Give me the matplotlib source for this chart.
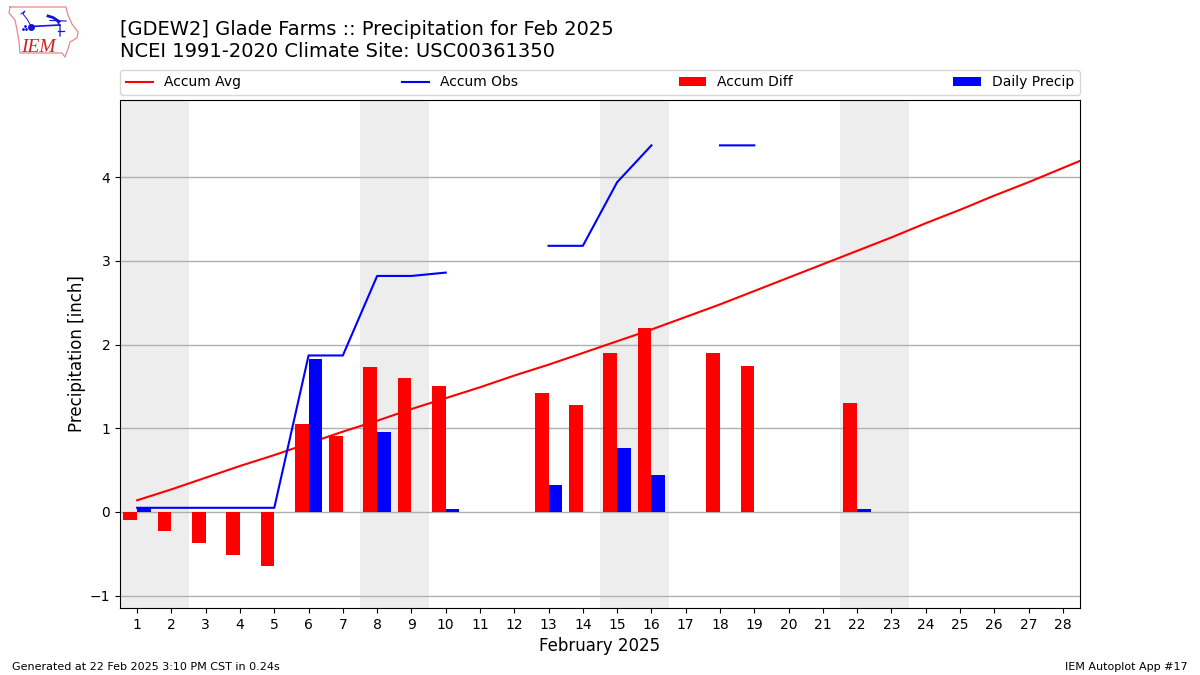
#!/usr/bin/env python3
## Monthly precipitation chart: accumulated obs against climatology

import numpy as np
import matplotlib
matplotlib.use("Agg")
import matplotlib.pyplot as plt

nan = np.nan

## Days of the month, the climatology line runs one day past the axis
days = list(range(1, 29))
avg_days = list(range(1, 30))
weekend_starts = [1, 8, 15, 22]

accum_avg = [0.14, 0.27, 0.41, 0.55, 0.68, 0.82, 0.96, 1.09, 1.23, 1.36,
             1.49, 1.63, 1.76, 1.90, 2.04, 2.18, 2.33, 2.48, 2.64, 2.80,
             2.96, 3.12, 3.28, 3.45, 3.61, 3.78, 3.94, 4.11, 4.28]
accum_obs = [0.05, 0.05, 0.05, 0.05, 0.05, 1.87, 1.87, 2.82, 2.82, 2.86,
             nan, nan, 3.18, 3.18, 3.94, 4.38, nan, 4.38, 4.38, nan,
             nan, nan, nan, nan, nan, nan, nan, nan]
accum_diff = [-0.09, -0.23, -0.37, -0.51, -0.64, 1.05, 0.91, 1.73, 1.60, 1.50,
              nan, nan, 1.42, 1.28, 1.90, 2.20, nan, 1.90, 1.74, nan,
              nan, 1.30, nan, nan, nan, nan, nan, nan]
daily_precip = [0.05, nan, nan, nan, nan, 1.83, nan, 0.96, nan, 0.03,
                nan, nan, 0.32, nan, 0.76, 0.44, nan, nan, nan, nan,
                nan, 0.03, nan, nan, nan, nan, nan, nan]

## Logo shapes, pixel positions on the figure
iowa_x = [10, 66, 68, 72, 78, 77, 70, 68, 65, 62, 20, 19, 17, 15, 9, 10]
iowa_y = [7, 7, 15, 24, 32, 38, 42, 49, 57, 53, 53, 41, 30, 20, 13, 7]

fig = plt.figure(figsize=(12, 6.75), dpi=100)
ax = fig.add_axes([120 / 1200, 1 - 608 / 675, 960 / 1200, 508 / 675])

for d in weekend_starts:
    ax.axvspan(d - 0.5, d + 1.5, color="#ededed", lw=0, zorder=0)

ax.plot(avg_days, accum_avg, color="r", label="Accum Avg", zorder=1)
ax.plot(days, accum_obs, color="b", label="Accum Obs", zorder=3)
ax.bar(np.array(days) - 0.2, accum_diff, width=0.4, color="r", label="Accum Diff", zorder=2)
ax.bar(np.array(days) + 0.2, daily_precip, width=0.4, color="b", label="Daily Precip", zorder=2)

ax.set_xlim(0.5, 28.5)
ax.set_ylim(-1.147, 4.922)
ax.set_xticks(days)
ax.set_yticks([-1, 0, 1, 2, 3, 4])
ax.set_yticklabels(["\u22121", "0", "1", "2", "3", "4"])
ax.set_axisbelow(True)
ax.grid(axis="y", color="#b0b0b0", lw=1)
ax.set_xlabel("February 2025", fontsize=12, labelpad=3.5)
ax.set_ylabel("Precipitation [inch]", fontsize=12, labelpad=2.5)

ax.legend(loc="lower left", bbox_to_anchor=(0, 1.01, 1, 0.05), mode="expand",
          ncol=4, borderaxespad=0, fontsize=10)

fig.text(120 / 1200, 1 - 35 / 675, "[GDEW2] Glade Farms :: Precipitation for Feb 2025",
         fontsize=14, va="baseline")
fig.text(120 / 1200, 1 - 57 / 675, "NCEI 1991-2020 Climate Site: USC00361350",
         fontsize=14, va="baseline")
fig.text(12 / 1200, 1 - 670 / 675, "Generated at 22 Feb 2025 3:10 PM CST in 0.24s",
         fontsize=8, va="baseline")
fig.text(1188 / 1200, 1 - 670 / 675, "IEM Autoplot App #17",
         fontsize=8, va="baseline", ha="right")

## Logo drawn in pixel units
logo = fig.add_axes([0, 1 - 70 / 675, 90 / 1200, 70 / 675])
logo.set_xlim(0, 90)
logo.set_ylim(70, 0)
logo.axis("off")
logo.plot(iowa_x, iowa_y, color="#e58a8a", lw=0.9)
logo.plot([31, 60], [26.5, 25], color="#1414d8", lw=1.2)
logo.plot([31], [26.5], "o", color="#1414d8", ms=4)
logo.plot([21, 25, 23, 27, 31], [14, 11, 14, 19, 26], color="#1414d8", lw=0.7)
logo.plot([48, 53, 59], [16, 17.5, 21.5], color="#1414d8", lw=2)
logo.plot([50, 66], [20.5, 21], color="#1414d8", lw=0.8)
logo.plot([57, 60, 60], [21, 26, 36], color="#1414d8", lw=0.9)
logo.plot([58, 64], [31, 31], color="#1414d8", lw=0.9)
logo.plot([23, 25, 26], [29, 26, 29], ".", color="#1414d8", ms=2)
logo.text(21, 52, "IEM", color="#d62020", family="Liberation Serif", style="italic",
          fontsize=14, va="baseline")

fig.savefig("out.png", dpi=100)
